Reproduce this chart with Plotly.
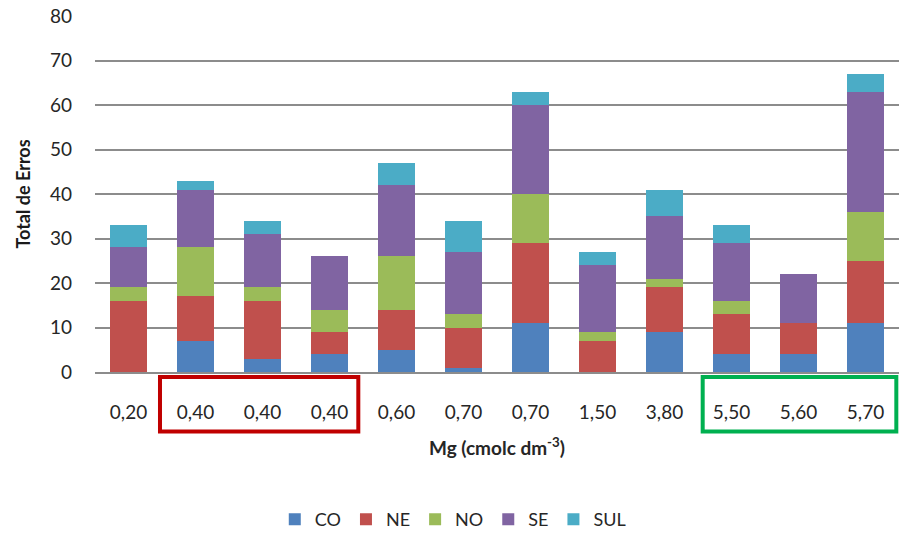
import plotly.graph_objects as go

# Mg content per sample (tick labels) and error counts by region
mg_labels = ["0,20", "0,40", "0,40", "0,40", "0,60", "0,70", "0,70", "1,50", "3,80", "5,50", "5,60", "5,70"]
co = [0, 7, 3, 4, 5, 1, 11, 0, 9, 4, 4, 11]
ne = [16, 10, 13, 5, 9, 9, 18, 7, 10, 9, 7, 14]
no = [3, 11, 3, 5, 12, 3, 11, 2, 2, 3, 0, 11]
se = [9, 13, 12, 12, 16, 14, 20, 15, 14, 13, 11, 27]
sul = [5, 2, 3, 0, 5, 7, 3, 3, 6, 4, 0, 4]

series = [
    ("CO", co, "#4f81bd"),
    ("NE", ne, "#c0504d"),
    ("NO", no, "#9bbb59"),
    ("SE", se, "#8064a2"),
    ("SUL", sul, "#4bacc6"),
]

positions = list(range(len(mg_labels)))

fig = go.Figure()
for name, vals, color in series:
    fig.add_trace(go.Bar(
        x=positions, y=vals, name=name,
        marker=dict(color=color, line=dict(width=0)),
        width=0.565,
    ))

font_family = "Lato, 'Open Sans', sans-serif"
text_color = "#262626"

fig.update_layout(
    barmode="stack",
    width=899, height=538,
    margin=dict(l=95, r=0, t=16, b=162),
    paper_bgcolor="white",
    plot_bgcolor="white",
    font=dict(family=font_family, color=text_color, size=18),
    showlegend=True,
    legend=dict(
        orientation="h", x=0.445, xanchor="center", y=-0.415, yanchor="middle",
        font=dict(size=18, color=text_color), traceorder="normal",
        itemwidth=30,
    ),
    xaxis=dict(
        tickmode="array", tickvals=positions, ticktext=mg_labels,
        range=[-0.5, len(mg_labels) - 0.5],
        automargin=False,
        showgrid=False, zeroline=False,
        showline=True, linecolor="#8c8c8c", linewidth=2,
        ticks="", ticklabelstandoff=22,
        tickfont=dict(size=19, color=text_color),
        title=dict(text="<b>Mg (cmolc dm<sup>-3</sup>)</b>",
                   font=dict(size=19, color=text_color), standoff=20),
    ),
    yaxis=dict(
        range=[0, 80], dtick=10,
        automargin=False,
        showgrid=True, gridcolor="#8c8c8c", gridwidth=1.5,
        zeroline=False, showline=False, ticks="",
        ticklabelstandoff=22,
        tickfont=dict(size=19, color=text_color),
        title=dict(text="<b>Total de Erros</b>",
                   font=dict(size=18, color="#1a1a1a"), standoff=14),
    ),
)

# Highlight boxes around groups of tick labels
fig.add_shape(type="rect", xref="x", yref="paper",
              x0=0.47, x1=3.43, y0=-0.167, y1=-0.014,
              line=dict(color="#c00000", width=4), fillcolor="rgba(0,0,0,0)")
fig.add_shape(type="rect", xref="x", yref="paper",
              x0=8.57, x1=11.46, y0=-0.167, y1=-0.014,
              line=dict(color="#00b050", width=4), fillcolor="rgba(0,0,0,0)")

fig.write_html("out.html")
